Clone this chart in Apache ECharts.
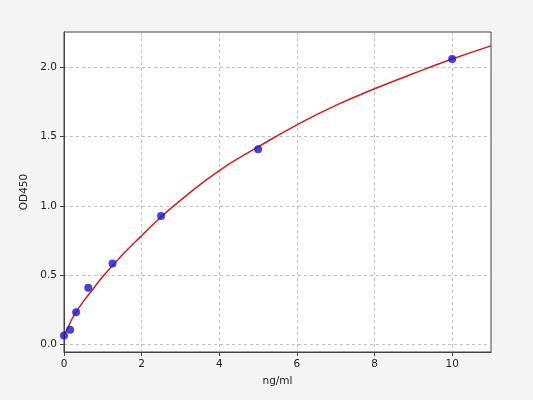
<!DOCTYPE html>
<html>
<head>
<meta charset="utf-8">
<script src="https://cdn.jsdelivr.net/npm/echarts@6/dist/echarts.min.js"></script>
<style>
  html, body { margin: 0; padding: 0; background: #f4f4f4; }
  #chart { width: 533px; height: 400px; }
</style>
</head>
<body>
<div id="chart"></div>
<script>
// measured standards (ng/ml, OD450)
const stdConc = [0, 0.156, 0.3125, 0.625, 1.25, 2.5, 5, 10];
const stdOD = [0.065, 0.106, 0.232, 0.408, 0.584, 0.926, 1.409, 2.06];

// fitted curve
const curveConc = [0, 0.1, 0.25, 0.5, 0.75, 1, 1.5, 2, 2.5, 3, 4, 5, 6, 7, 8, 9, 10, 11];
const curveOD = [0.065, 0.12, 0.205, 0.31, 0.40, 0.49, 0.645, 0.785, 0.92, 1.04, 1.255, 1.425, 1.585, 1.725, 1.845, 1.955, 2.06, 2.155];

const xTicks = [0, 2, 4, 6, 8, 10];
const yTicks = [0, 0.5, 1.0, 1.5, 2.0];

const chart = echarts.init(document.getElementById('chart'));

const gridLine = { show: true, lineStyle: { color: '#b0b0b0', type: [3, 3], width: 0.8 } };
const font = { fontFamily: 'DejaVu Sans', fontSize: 10.5, color: '#222' };

chart.setOption({
  backgroundColor: '#f4f4f4',
  animation: false,
  grid: {
    left: 64, right: 42, top: 32, bottom: 48,
    show: true, backgroundColor: '#fff', borderColor: '#444', borderWidth: 1
  },
  xAxis: {
    type: 'value',
    min: 0, max: 11,
    name: 'ng/ml', nameLocation: 'middle', nameGap: 24,
    nameTextStyle: font,
    axisLine: { show: true, onZero: false, lineStyle: { color: '#444' } },
    axisTick: { show: true, length: 4, customValues: xTicks, lineStyle: { color: '#444' } },
    axisLabel: Object.assign({ customValues: xTicks, margin: 7 }, font),
    splitLine: gridLine
  },
  yAxis: {
    type: 'value',
    min: -0.055, max: 2.255,
    name: 'OD450', nameLocation: 'middle', nameGap: 25,
    nameTextStyle: font,
    axisLine: { show: true, onZero: false, lineStyle: { color: '#444' } },
    axisTick: { show: true, length: 4, customValues: yTicks, lineStyle: { color: '#444' } },
    axisLabel: Object.assign({ customValues: yTicks, margin: 7, formatter: v => v.toFixed(1) }, font),
    splitLine: gridLine
  },
  series: [
    {
      type: 'line',
      data: curveConc.map((x, i) => [x, curveOD[i]]),
      smooth: true,
      showSymbol: false,
      lineStyle: { color: '#d81c1c', width: 1.5 },
      z: 2
    },
    {
      type: 'scatter',
      data: stdConc.map((x, i) => [x, stdOD[i]]),
      symbolSize: 8,
      itemStyle: { color: '#1515d5' },
      z: 3
    }
  ]
});
</script>
</body>
</html>
